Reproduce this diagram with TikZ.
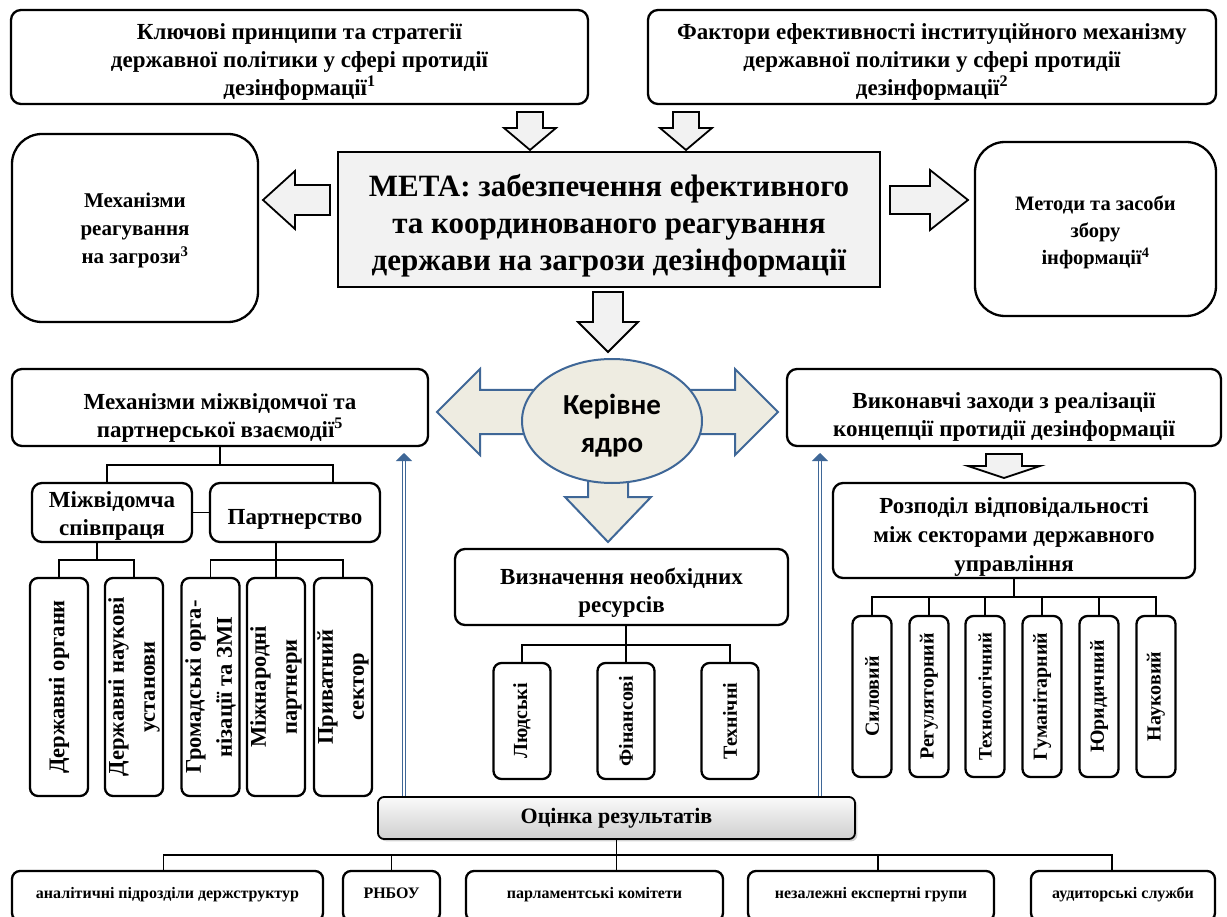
\documentclass[tikz,border=0pt]{standalone}
\usepackage{fontspec}
\setmainfont{Liberation Serif}
\newfontfamily\calibfont{Carlito}
\usepackage{xcolor}
\usetikzlibrary{shapes.geometric,shadows,arrows.meta}

\definecolor{boxgray}{HTML}{F2F2F2}
\definecolor{coretan}{HTML}{EEECE1}
\definecolor{coreblue}{HTML}{3F6797}
\definecolor{arrblue}{HTML}{3F6797}

\begin{document}
\begin{tikzpicture}[x=1pt,y=-1pt,
  box/.style={draw, line width=2.3pt, rounded corners=10pt, align=center, inner sep=2pt},
  vbox/.style={box, rotate=90, rounded corners=8pt, inner sep=1pt},
  fs/.style n args={3}{font=\bfseries\fontsize{#1}{#2}\selectfont, text height=#3pt, text depth=0pt},
  vfs/.style 2 args={font=\bfseries\fontsize{#1}{#2}\selectfont},
  bfs/.style={font=\bfseries\fontsize{16}{20}\selectfont, text height=11pt, text depth=7pt},
  tree/.style={line width=1.1pt},
  barrow/.style={draw, line width=1.8pt, fill=boxgray, line join=miter},
  bluearr/.style={draw=arrblue, line width=1.5pt, double=white, double distance=1.6pt,
    -{Triangle[width=16pt,length=8pt]}}]
  \useasboundingbox (0,0) rectangle (1227,917);

  % top row
  \node[box, fs={23}{28}{78}, minimum width=577pt, minimum height=94pt] (princ) at (299.5,57)
    {Ключові принципи та стратегії\\державної політики у сфері протидії\\дезінформації\textsuperscript{1}};
  \node[box, fs={23}{28}{78}, minimum width=568pt, minimum height=94pt] (factor) at (932,57)
    {Фактори ефективності інституційного механізму\\державної політики у сфері протидії\\дезінформації\textsuperscript{2}};

  % goal and side boxes
  \node[draw, line width=2pt, fill=boxgray, align=center, fs={31}{37}{103},
    minimum width=542pt, minimum height=135pt] (meta) at (609,219.5)
    {МЕТА: забезпечення ефективного\\та координованого реагування\\держави на загрози дезінформації};
  \node[box, fs={21}{28}{72}, rounded corners=30pt, minimum width=246pt, minimum height=188pt] (react) at (135,228)
    {Механізми\\реагування\\на загрози\textsuperscript{3}};
  \node[box, fs={20.5}{27}{72}, rounded corners=30pt, minimum width=241pt, minimum height=174pt] (methods) at (1095.5,229)
    {Методи та засоби\\збору\\інформації\textsuperscript{4}};

  \draw[barrow] (517,112) -- (543,112) -- (543,128) -- (556,128) -- (530,150) -- (504,128) -- (517,128) -- cycle;
  \draw[barrow] (673,112) -- (699,112) -- (699,128) -- (712,128) -- (686,150) -- (660,128) -- (673,128) -- cycle;
  \draw[barrow] (330,185) -- (295,185) -- (295,171) -- (263,200) -- (295,229) -- (295,215) -- (330,215) -- cycle;
  \draw[barrow] (890,186) -- (930,186) -- (930,170) -- (968,200) -- (930,230) -- (930,214) -- (890,214) -- cycle;
  \draw[barrow] (593,292) -- (623,292) -- (623,322) -- (638,322) -- (608,352) -- (578,322) -- (593,322) -- cycle;

  % core
  \draw[draw=coreblue, line width=2pt, fill=coretan, line join=miter]
    (437,412) -- (480,369) -- (480,390) -- (735,390) -- (735,369) -- (778,412) -- (735,455) -- (735,434)
    -- (628,434) -- (628,497) -- (651,497) -- (608,542) -- (565,497) -- (588,497) -- (588,434)
    -- (480,434) -- (480,455) -- cycle;
  \node[ellipse, draw=coreblue, line width=2pt, fill=coretan, align=center,
    font=\calibfont\bfseries\fontsize{29}{38}\selectfont, text height=62pt, text depth=0pt,
    minimum width=180pt, minimum height=124pt] (core) at (612,421) {Керівне\\ядро};

  % left branch
  \node[box, fs={23}{28}{60}, minimum width=416pt, minimum height=77pt] (interag) at (220,407.5)
    {Механізми міжвідомчої та\\партнерської взаємодії\textsuperscript{5}};
  \node[box, fs={23}{28}{45}, minimum width=160pt, minimum height=59pt] (coop) at (112,512.5) {Міжвідомча\\співпраця};
  \node[box, fs={23}{28}{24}, minimum width=170pt, minimum height=59pt] (partner) at (295,512.5) {Партнерство};
  \node[vbox, vfs={22.5}{31}, minimum width=218pt, minimum height=58pt] (gov) at (59,687) {Державні органи};
  \node[vbox, vfs={22.5}{31}, minimum width=218pt, minimum height=58pt] (sci) at (134,687) {Державні наукові\\установи};
  \node[vbox, vfs={22.5}{31}, minimum width=218pt, minimum height=58pt] (civil) at (210.5,687) {Громадські орга-\\нізації та ЗМІ};
  \node[vbox, vfs={22.5}{31}, minimum width=218pt, minimum height=58pt] (intl) at (276,687) {Міжнародні\\партнери};
  \node[vbox, vfs={22.5}{31}, minimum width=218pt, minimum height=58pt] (priv) at (343,687) {Приватний\\сектор};

  \coordinate (j1) at (0,465);
  \coordinate (j2) at (0,560);
  \draw[tree] (interag.south) -- (interag.south |- j1);
  \draw[tree] ([xshift=-5pt]coop.north) -- ([xshift=-5pt]coop.north |- j1)
    -- ([xshift=38pt]partner.north |- j1) -- ([xshift=38pt]partner.north);
  \draw[tree] (coop.east) -- (partner.west);
  \draw[tree] ([xshift=-15pt]coop.south) -- ([xshift=-15pt]coop.south |- j2);
  \draw[tree] (gov.east) -- (gov.east |- j2) -- (sci.east |- j2) -- (sci.east);
  \draw[tree] (intl.east |- partner.south) -- (intl.east);
  \draw[tree] (civil.east) -- (civil.east |- j2) -- (priv.east |- j2) -- (priv.east);

  % resources
  \node[box, fs={23}{28}{50}, minimum width=333pt, minimum height=76pt] (res) at (621.5,587) {Визначення необхідних\\ресурсів};
  \node[vbox, vfs={20}{22}, minimum width=116pt, minimum height=57pt] (human) at (522,721) {Людські};
  \node[vbox, vfs={20}{22}, minimum width=116pt, minimum height=57pt] (fin) at (626,721) {Фінансові};
  \node[vbox, vfs={20}{22}, minimum width=116pt, minimum height=57pt] (tech) at (730,721) {Технічні};
  \coordinate (j3) at (0,645);
  \draw[tree] (fin.east |- res.south) -- (fin.east);
  \draw[tree] (human.east) -- (human.east |- j3) -- (tech.east |- j3) -- (tech.east);

  % right branch
  \node[box, fs={23}{28}{58}, minimum width=434pt, minimum height=77pt] (execut) at (1004,407.5)
    {Виконавчі заходи з реалізації\\концепції протидії дезінформації};
  \draw[barrow] (986,454) -- (1022,454) -- (1022,466) -- (1040,466) -- (1004,478) -- (968,466) -- (986,466) -- cycle;
  \node[box, fs={23}{29}{82}, minimum width=362pt, minimum height=95pt] (distr) at (1014,530.5)
    {Розподіл відповідальності\\між секторами державного\\управління};
  \node[vbox, vfs={20}{22}, minimum width=161pt, minimum height=39pt] (sil) at (872,696.5) {Силовий};
  \node[vbox, vfs={20}{22}, minimum width=161pt, minimum height=39pt] (reg) at (929,696.5) {Регуляторний};
  \node[vbox, vfs={19}{22}, minimum width=161pt, minimum height=39pt] (tekh) at (985,696.5) {Технологічний};
  \node[vbox, vfs={20}{22}, minimum width=161pt, minimum height=39pt] (hum) at (1042,696.5) {Гуманітарний};
  \node[vbox, vfs={20}{22}, minimum width=161pt, minimum height=39pt] (jur) at (1099,696.5) {Юридичний};
  \node[vbox, vfs={20}{22}, minimum width=161pt, minimum height=39pt] (nauk) at (1156,696.5) {Науковий};
  \coordinate (j4) at (0,597);
  \draw[tree] (distr.south) -- (distr.south |- j4);
  \draw[tree] (sil.east) -- (sil.east |- j4) -- (nauk.east |- j4) -- (nauk.east);
  \draw[tree] (reg.east) -- (reg.east |- j4);
  \draw[tree] (tekh.east) -- (tekh.east |- j4);
  \draw[tree] (hum.east) -- (hum.east |- j4);
  \draw[tree] (jur.east) -- (jur.east |- j4);

  % evaluation
  \node[draw, line width=1.8pt, rounded corners=6pt, top color=gray!4, bottom color=gray!38,
    drop shadow={opacity=0.35}, vfs={22}{26}, minimum width=477pt, minimum height=42pt] (eval) at (616.5,818)
    {Оцінка результатів};
  \coordinate (uleft) at (404,453);
  \coordinate (uright) at (820,453);
  \draw[bluearr] (eval.north -| uleft) -- (uleft);
  \draw[bluearr] (eval.north -| uright) -- (uright);

  \node[box, bfs, rounded corners=8pt, minimum width=311pt, minimum height=50pt] (analyt) at (167.5,896) {аналітичні підрозділи держструктур};
  \node[box, bfs, rounded corners=8pt, minimum width=97pt, minimum height=50pt] (rnbou) at (391.5,896) {РНБОУ};
  \node[box, bfs, rounded corners=8pt, minimum width=257pt, minimum height=50pt] (parl) at (594.5,896) {парламентські комітети};
  \node[box, bfs, rounded corners=8pt, minimum width=246pt, minimum height=50pt] (indep) at (871,896) {незалежні експертні групи};
  \node[box, bfs, rounded corners=8pt, minimum width=184pt, minimum height=50pt] (audit) at (1123,896) {аудиторські служби};
  \coordinate (j5) at (0,855);
  \draw[tree] (eval.south) -- (eval.south |- parl.north);
  \draw[tree] ([xshift=-4pt]analyt.north) -- ([xshift=-4pt]analyt.north |- j5)
    -- ([xshift=-11pt]audit.north |- j5) -- ([xshift=-11pt]audit.north);
  \draw[tree] (rnbou.north) -- (rnbou.north |- j5);
  \draw[tree] ([xshift=7pt]indep.north) -- ([xshift=7pt]indep.north |- j5);
\end{tikzpicture}
\end{document}
